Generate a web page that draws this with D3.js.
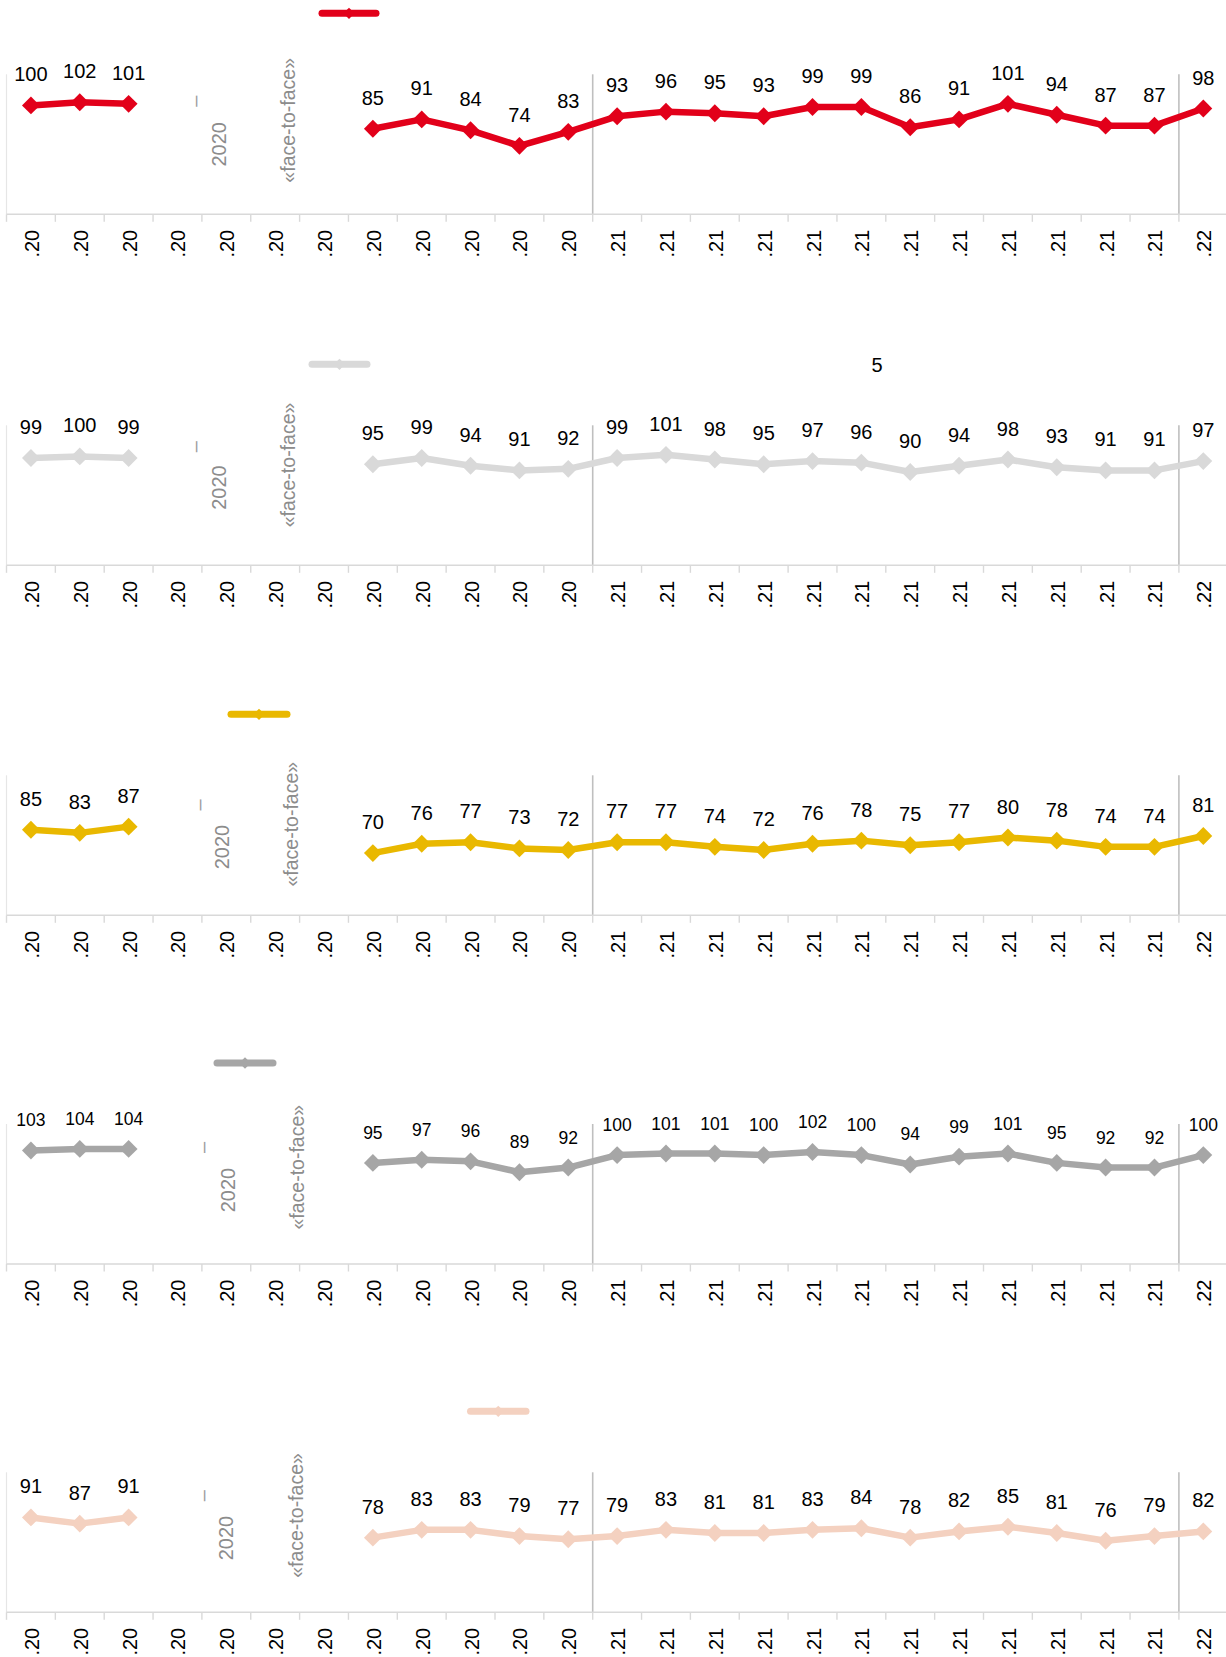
<!DOCTYPE html>
<html><head><meta charset="utf-8">
<script src="https://cdn.jsdelivr.net/npm/d3@7"></script>
<style>
html,body{margin:0;padding:0;background:#fff;}
svg{display:block;font-family:"Liberation Sans",Arial,sans-serif;}
</style></head><body>
<svg id="chart" width="1226" height="1657"></svg>
<script>
// ---------- DATA ----------
const categories = [".20",".20",".20",".20",".20",".20",".20",".20",".20",".20",".20",".20",
                    ".21",".21",".21",".21",".21",".21",".21",".21",".21",".21",".21",".21",
                    ".22"];
const seriesRed    = [100,102,101,null,null,null,null,85,91,84,74,83,93,96,95,93,99,99,86,91,101,94,87,87,98];
const seriesLight  = [99,100,99,null,null,null,null,95,99,94,91,92,99,101,98,95,97,96,90,94,98,93,91,91,97];
const seriesYellow = [85,83,87,null,null,null,null,70,76,77,73,72,77,77,74,72,76,78,75,77,80,78,74,74,81];
const seriesGrey   = [103,104,104,null,null,null,null,95,97,96,89,92,100,101,101,100,102,100,94,99,101,95,92,92,100];
const seriesPeach  = [91,87,91,null,null,null,null,78,83,83,79,77,79,83,81,81,83,84,78,82,85,81,76,79,82];
const yDomain = [30, 120];
const yearBreaks = [12, 24];           // category index where a new year starts
const noteDash = "–";
const noteYear = "2020";
const noteFace = "«face-to-face»";
const noteExtra = "5";

// ---------- LAYOUT / STYLE ----------
const panels = [
  {values: seriesRed,    color:"#e2001a", base:214.3,  fs:20,   leg:[322,376],   dash:[197,-113],   year:[219,-70],   face:[287.5,-94]},
  {values: seriesLight,  color:"#d9d9d9", base:565.3,  fs:20,   leg:[312,367],   dash:[197,-118.6], year:[218.7,-77.8], face:[287.5,-100.3], extra:[877,-200.5]},
  {values: seriesYellow, color:"#e9b800", base:915.3,  fs:20,   leg:[231,287],   dash:[200.9,-110.3], year:[222.2,-68.3], face:[291.4,-91.1]},
  {values: seriesGrey,   color:"#a6a6a6", base:1264,   fs:17.5, leg:[217,273],   dash:[204.8,-116.5], year:[227.4,-74], face:[296.6,-96.8]},
  {values: seriesPeach,  color:"#f4d1c0", base:1612.3, fs:20,   leg:[470.5,526], dash:[204.4,-116.5], year:[226.2,-74.3], face:[295.8,-96.8]}
];
const plotH = 140;
const left = 6.5, step = 48.85;

const svg = d3.select("#chart");
const x = d3.scaleBand().domain(d3.range(categories.length))
  .range([left, left + step*categories.length]).padding(0);
const bw = x.bandwidth();
const cx = i => x(i) + bw/2;

panels.forEach(p => {
  const base = p.base, top = base - plotH;
  const y = d3.scaleLinear().domain(yDomain).range([base, top]);
  const g = svg.append("g");
  const data = p.values.map((v,i)=>({i, v}));

  // left axis
  g.append("line").attr("x1",left).attr("x2",left).attr("y1",top).attr("y2",base)
    .attr("stroke","#e6e6e6").attr("stroke-width",1.2);
  // year separators
  g.selectAll(".sep").data(yearBreaks).join("line")
    .attr("x1",d=>x(d)).attr("x2",d=>x(d)).attr("y1",top).attr("y2",base)
    .attr("stroke","#bfbfbf").attr("stroke-width",1.6);
  // x axis line
  g.append("line").attr("x1",left).attr("x2",1226).attr("y1",base).attr("y2",base)
    .attr("stroke","#d9d9d9").attr("stroke-width",1.6);
  // boundary ticks
  g.selectAll(".tk").data(d3.range(categories.length)).join("line")
    .attr("x1",d=>x(d)).attr("x2",d=>x(d)).attr("y1",base).attr("y2",base+7.5)
    .attr("stroke","#d9d9d9").attr("stroke-width",1.4);
  // tick labels
  g.selectAll(".tl").data(categories).join("text")
    .attr("transform",(d,i)=>`translate(${cx(i)+1},${base+15.5}) rotate(-90)`)
    .attr("text-anchor","end").attr("dy","0.35em")
    .attr("font-size",20).attr("fill","#000").text(d=>d);

  // annotations
  g.append("text").attr("transform",`translate(${p.dash[0]},${base+p.dash[1]}) rotate(-90)`)
    .attr("text-anchor","middle").attr("dy","0.27em").attr("font-size",20).attr("fill","#a0a0a0").text(noteDash);
  g.append("text").attr("transform",`translate(${p.year[0]},${base+p.year[1]}) rotate(-90)`)
    .attr("text-anchor","middle").attr("dy","0.36em").attr("font-size",20).attr("fill","#8c8c8c").text(noteYear);
  g.append("text").attr("transform",`translate(${p.face[0]},${base+p.face[1]}) rotate(-90)`)
    .attr("text-anchor","middle").attr("dy","0.36em").attr("font-size",19.5).attr("fill","#8c8c8c").text(noteFace);
  if (p.extra) {
    g.append("text").attr("x",p.extra[0]).attr("y",base+p.extra[1]).attr("dy","0.35em")
      .attr("text-anchor","middle").attr("font-size",20).attr("fill","#000").text(noteExtra);
  }

  // legend
  const ly = base - 201;
  g.append("line").attr("x1",p.leg[0]).attr("x2",p.leg[1]).attr("y1",ly).attr("y2",ly)
    .attr("stroke",p.color).attr("stroke-width",7).attr("stroke-linecap","round");
  g.append("path").attr("d",d3.symbol(d3.symbolSquare,64)())
    .attr("transform",`translate(${(p.leg[0]+p.leg[1])/2},${ly}) rotate(45)`).attr("fill",p.color);

  // line
  const line = d3.line().defined(d=>d.v!=null).x(d=>cx(d.i)).y(d=>y(d.v));
  g.append("path").datum(data).attr("d",line).attr("fill","none")
    .attr("stroke",p.color).attr("stroke-width",6.5).attr("stroke-linejoin","round");
  // markers
  const pts = data.filter(d=>d.v!=null);
  g.selectAll(".mk").data(pts).join("path")
    .attr("d",d3.symbol(d3.symbolSquare,160)())
    .attr("transform",d=>`translate(${cx(d.i)},${y(d.v)}) rotate(45)`)
    .attr("fill",p.color);
  // value labels
  g.selectAll(".vl").data(pts).join("text")
    .attr("x",d=>cx(d.i)).attr("y",d=>y(d.v)-24)
    .attr("text-anchor","middle").attr("font-size",p.fs).attr("fill","#000")
    .text(d=>d.v);
});
</script>
</body></html>
